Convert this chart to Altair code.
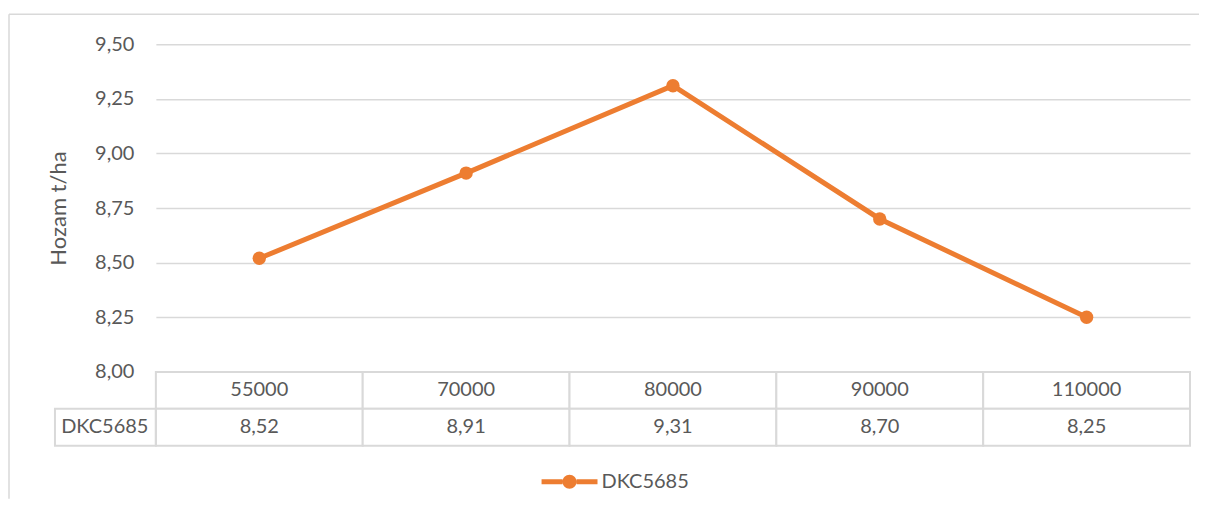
import altair as alt
import pandas as pd

densities = ["55000", "70000", "80000", "90000", "110000"]
yields = [8.52, 8.91, 9.31, 8.70, 8.25]
series_name = "DKC5685"
y_ticks = [8.00, 8.25, 8.50, 8.75, 9.00, 9.25, 9.50]
y_title = "Hozam t/ha"

ORANGE = "#ED7D31"
GREY_TXT = "#595959"
GRID = "#D9D9D9"
FONT = "Lato"
FS = 20

df = pd.DataFrame({"density": densities, "yield": yields, "series": series_name})

rows = []
for d, v in zip(densities, yields):
    rows.append({"density": d, "row": "header", "text": d})
    rows.append({"density": d, "row": series_name, "text": f"{v:.2f}".replace(".", ",")})
table_df = pd.DataFrame(rows)

W = 1035

x_top = alt.X("density:N", sort=densities, scale=alt.Scale(type="point", padding=0.5), axis=None)
y_top = alt.Y(
    "yield:Q",
    scale=alt.Scale(domain=[8, 9.5], nice=False, zero=False),
    axis=alt.Axis(
        values=y_ticks,
        labelExpr="replace(format(datum.value, '.2f'), '.', ',')",
        title=y_title,
        grid=True, gridColor=GRID, gridWidth=1.5,
        domain=False, ticks=False,
        labelPadding=22, labelFontSize=FS, labelColor=GREY_TXT, labelFont=FONT,
        titlePadding=24, titleFontSize=22, titleColor=GREY_TXT, titleFont=FONT,
        titleFontWeight="normal",
    ),
)

base = alt.Chart(df)
line = base.mark_line(color=ORANGE, strokeWidth=5).encode(x=x_top, y=y_top)

legend_path = ("M-1,-0.09 L-0.25,-0.09 L-0.25,0.09 L-1,0.09 Z "
               "M0.25,-0.09 L1,-0.09 L1,0.09 L0.25,0.09 Z "
               "M0.25,0 A0.25,0.25 0 1,1 -0.25,0 A0.25,0.25 0 1,1 0.25,0 Z")
points = base.mark_point(filled=True, size=180, opacity=1).encode(
    x=x_top, y=y_top,
    color=alt.Color(
        "series:N",
        scale=alt.Scale(range=[ORANGE]),
        legend=alt.Legend(
            title=None, orient="none", legendX=386, legendY=410,
            symbolType=legend_path, symbolSize=3136, symbolStrokeWidth=0,
            labelFontSize=FS, labelColor=GREY_TXT, labelFont=FONT, labelOffset=4,
        ),
    ),
)

one = alt.Data(values=[{"k": 1}])
border_left = alt.Chart(one).mark_rule(color=GRID, strokeWidth=1.5).encode(
    x=alt.value(-147), y=alt.value(-30), y2=alt.value(455))
border_top = alt.Chart(one).mark_rule(color=GRID, strokeWidth=1.5).encode(
    x=alt.value(-147), x2=alt.value(1044), y=alt.value(-30))

top = alt.layer(border_left, border_top, line, points).properties(width=W, height=328)

x_tab = alt.X("density:N", sort=densities, scale=alt.Scale(type="band", paddingInner=0, paddingOuter=0), axis=None)
y_tab = alt.Y(
    "row:N", sort=["header", series_name],
    scale=alt.Scale(paddingInner=0, paddingOuter=0),
    axis=alt.Axis(
        title=None, domain=False, ticks=False,
        labelExpr=f"datum.value == '{series_name}' ? datum.value : ''",
        labelPadding=8, labelFontSize=FS, labelColor=GREY_TXT, labelFont=FONT,
    ),
)
tab_base = alt.Chart(table_df)
cells = tab_base.mark_rect(fill="white", stroke=GRID, strokeWidth=2).encode(x=x_tab, y=y_tab)
texts = tab_base.mark_text(fontSize=FS, color=GREY_TXT, font=FONT).encode(x=x_tab, y=y_tab, text="text:N")
label_cell = alt.Chart(table_df).transform_filter(
    alt.datum.row == series_name
).transform_aggregate(n="count()", groupby=["row"]).mark_rect(
    fill="white", fillOpacity=0, stroke=GRID, strokeWidth=2
).encode(x=alt.value(-101), x2=alt.value(0), y=y_tab)

bottom = alt.layer(cells, texts, label_cell).properties(width=W, height=74)

chart = alt.vconcat(top, bottom, spacing=0, bounds="flush").resolve_scale(
    x="independent", y="independent"
).properties(
    padding={"left": 0, "top": 5, "right": 0, "bottom": 0},
    background="white",
).configure(font=FONT).configure_view(strokeWidth=0, stroke="transparent")

chart.save("out.html", embed_options={"renderer": "svg", "actions": False})
